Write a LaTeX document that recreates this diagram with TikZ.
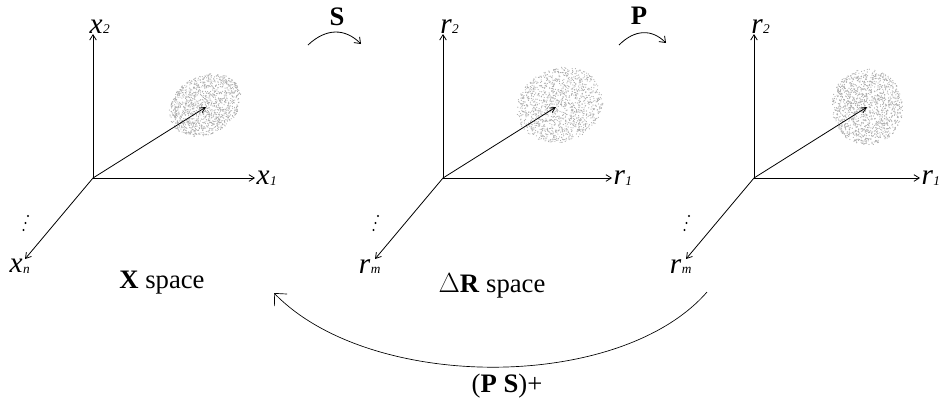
\documentclass[tikz,border=0pt]{standalone}
\usepackage{fontspec}
\setmainfont{Liberation Serif}
\usetikzlibrary{arrows.meta,positioning}
\newcommand{\axlab}[2]{{\itshape #1\kern0.3pt\raisebox{-0.5pt}{\fontsize{10}{10}\selectfont #2}}}

\begin{document}
\begin{tikzpicture}[x=0.75pt,y=-0.75pt,
  axis/.style={line width=0.6pt,-{Straight Barb[length=4pt,width=5pt]}},
  vec/.style={line width=0.6pt,-{Straight Barb[length=4pt,width=4pt]}},
  lab/.style={font=\fontsize{22}{22}\selectfont,inner sep=1pt},
  spacelab/.style={font=\fontsize{20}{20}\selectfont,inner sep=1pt},
  maplab/.style={font=\fontsize{20}{20}\selectfont\bfseries,inner sep=1pt},
  map/.style={line width=0.6pt,-{Straight Barb[length=4pt,width=6pt]}},
  back/.style={line width=0.5pt,-{Straight Barb[length=7pt,width=13pt]}},
  blobdot/.style={fill=gray!65}
]
\useasboundingbox (0,0) rectangle (939,408);
\pgfmathsetseed{11}
% three spaces
\foreach \i/\ox/\v/\d/\cx/\cy/\rx/\ry/\rot/\rl in
  {1/93/x/n/205/105/38/29/30/162, 2/443/r/m/560/105/44/37/20/169, 3/754/r/m/867/107/36/38/0/166}{
  \coordinate (o\i) at (\ox,178);
  \coordinate (up\i) at (\ox,34);
  \coordinate (rt\i) at (\ox+\rl,178);
  \coordinate (dn\i) at (\ox-68,259);
  \coordinate (tip\i) at (\ox+113,107);
  \coordinate (c\i) at (\cx,\cy);
  \foreach \k in {1,...,1300}{
    \pgfmathsetmacro\rr{sqrt(rnd)}
    \pgfmathsetmacro\aa{360*rnd}
    \fill[blobdot,rotate around={\rot:(c\i)}] ([shift={(\aa:{\rr*\rx} and {\rr*\ry})}]c\i) circle (0.6);
  }
  \draw[axis] (o\i) -- (up\i);
  \draw[axis] (o\i) -- (rt\i);
  \draw[axis] (o\i) -- (dn\i);
  \draw[vec] (o\i) -- (tip\i);
  \node[lab,above=-1pt of up\i,xshift=5pt] (l2\i) {\axlab{\v}{2}};
  \node[lab,right=0pt of rt\i] (l1\i) {\axlab{\v}{1}};
  \node[lab,below=-1pt of dn\i,xshift=-4pt] (ld\i) {\axlab{\v}{\d}};
  % dots
  \foreach \dx/\dy in {0/0,-2.5/7,-4.5/14}
    \fill ([shift={(\dx,\dy)}]\ox-65,216) circle (1.2);
}
\node[spacelab] (xsp) at (162,283) {\textbf{X} space};
\node[spacelab] (rsp) at (492,286) {$\Delta$\textbf{R} space};

% forward maps
\coordinate (s0) at (308,45);
\coordinate (s1) at (361,44);
\draw[map] (s0) .. controls (326,28) and (345,28) .. (s1);
\node[maplab] (smap) at (337,17) {S};
\coordinate (p0) at (619,45);
\coordinate (p1) at (666,43);
\draw[map] (p0) .. controls (635,29) and (652,29) .. (p1);
\node[maplab] (pmap) at (639,16) {P};

% inverse map
\coordinate (b0) at (707,292);
\coordinate (b1) at (274,293);
\draw[back] (b0) .. controls (620,392) and (370,392) .. (b1);
\node[spacelab] (inv) at (507,386) {(\textbf{P S})+};
\end{tikzpicture}
\end{document}
